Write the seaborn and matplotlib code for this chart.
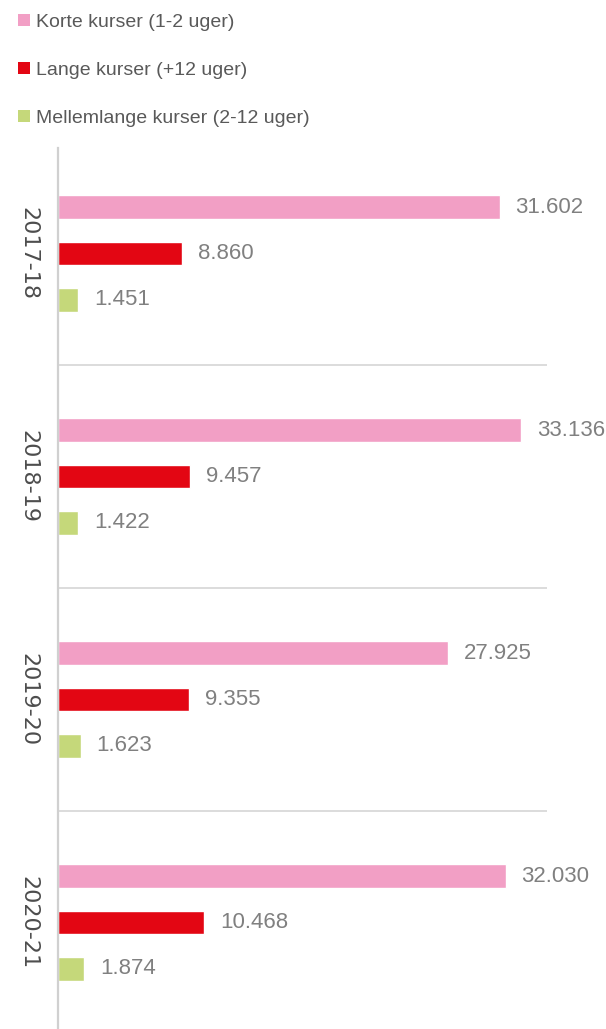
import matplotlib
matplotlib.use("Agg")
import matplotlib.pyplot as plt
from matplotlib.patches import Patch
import seaborn as sns
import pandas as pd

# data
years = ["2017-18", "2018-19", "2019-20", "2020-21"]
series = ["Korte kurser (1-2 uger)", "Lange kurser (+12 uger)", "Mellemlange kurser (2-12 uger)"]
korte = [31602, 33136, 27925, 32030]
lange = [8860, 9457, 9355, 10468]
mellem = [1451, 1422, 1623, 1874]
colors = ["#F29FC5", "#E30613", "#C5D87A"]

rows = []
for i, y in enumerate(years):
    for s, vals in zip(series, [korte, lange, mellem]):
        rows.append({"year": y, "serie": s, "antal": vals[i]})
df = pd.DataFrame(rows)

sns.set_style("white")
plt.rcParams["font.family"] = ["Liberation Sans", "DejaVu Sans"]

fig = plt.figure(figsize=(6.06, 10.29), dpi=100)
# plot area: x 58..547 px, y 142..1034 px (bottom slightly past the image edge)
ax = fig.add_axes([58/606, -5/1029, (547-58)/606, (1034-142)/1029])

sns.barplot(data=df, y="year", x="antal", hue="serie", hue_order=series,
            palette=colors, orient="h", width=0.62, gap=0.48, ax=ax,
            legend=False, saturation=1)

# value labels
for cont in ax.containers:
    for bar in cont:
        v = bar.get_width()
        txt = f"{int(round(v)):,}".replace(",", ".")
        ax.text(v + 1150, bar.get_y() + bar.get_height()/2, txt,
                va="center", ha="left", fontsize=16, color="#808080")

# separator lines between years
for yy in [0.5, 1.5, 2.5]:
    ax.axhline(yy, color="#d9d9d9", lw=1.3)

ax.set_xlim(0, 35000)
ax.set_ylim(3.5, -0.5)
ax.set_xticks([])
ax.set_xlabel("")
ax.set_ylabel("")
for sp in ["top", "right", "bottom"]:
    ax.spines[sp].set_visible(False)
ax.spines["left"].set_color("#d0d0d0")
ax.spines["left"].set_linewidth(1.6)
ax.spines["left"].set_bounds(3.5, -0.473)
ax.tick_params(axis="y", length=0, pad=14)
for lab in ax.get_yticklabels():
    lab.set_rotation(-90)
    lab.set_fontsize(16)
    lab.set_family("DejaVu Sans")
    lab.set_color("#4d4d4d")
    lab.set_va("center")

handles = [Patch(facecolor=c, edgecolor="none") for c in colors]
fig.legend(handles, series, loc="upper left", bbox_to_anchor=(18/606, 1 - 14/1029),
           frameon=False, fontsize=14, handlelength=0.6, handleheight=0.6,
           handletextpad=0.35, labelspacing=1.58, borderpad=0, borderaxespad=0,
           labelcolor="#595959")

fig.savefig("out.png", dpi=100)
